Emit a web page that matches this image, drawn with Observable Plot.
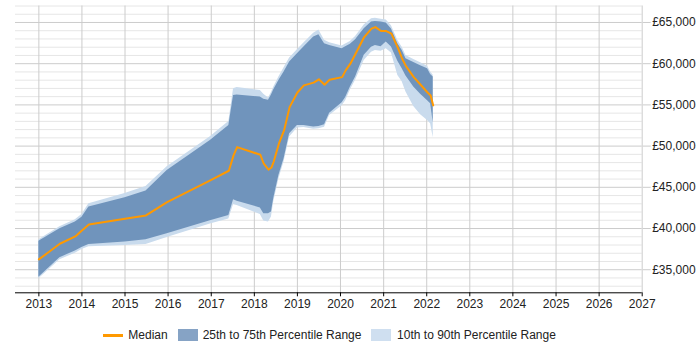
<!DOCTYPE html>
<html>
<head>
<meta charset="utf-8">
<script src="https://cdn.jsdelivr.net/npm/d3@7"></script>
<script src="https://cdn.jsdelivr.net/npm/@observablehq/plot@0.6"></script>
<style>
  body { margin: 0; background: #fff; font-family: "Liberation Sans", Arial, sans-serif; }
  #chart { position: relative; width: 700px; height: 350px; }
  .legend { position: absolute; left: 102.7px; top: 329px; height: 12px; display: flex; align-items: center; font-size: 12px; line-height: 12px; color: #222; white-space: nowrap; }
  .legend .line { width: 20px; height: 3px; background: #ff9900; margin-right: 5.6px; }
  .legend .box { width: 20px; height: 12px; margin-right: 5px; }
  .legend .gap { width: 10px; }
</style>
</head>
<body>
<div id="chart"></div>
<script>
// Salary percentiles over time (observation dates)
const dates = [
  "2013-01-01", "2013-06-28", "2013-11-06", "2014-01-01", "2014-03-01",
  "2015-01-01", "2015-06-28", "2015-12-24", "2016-12-24", "2017-05-30",
  "2017-07-09", "2017-08-08", "2018-02-21", "2018-03-22", "2018-05-01",
  "2018-05-26", "2018-06-14", "2018-07-28", "2018-09-10", "2018-10-27",
  "2019-01-01", "2019-02-25", "2019-05-19", "2019-07-02", "2019-08-19",
  "2019-10-01", "2020-01-15", "2020-02-14", "2020-03-25", "2020-05-08",
  "2020-07-20", "2020-09-20", "2020-10-23", "2020-12-10", "2021-01-23",
  "2021-03-08", "2021-05-01", "2021-06-07", "2021-07-09", "2021-09-13",
  "2021-11-10", "2022-01-08", "2022-02-03", "2022-02-25"
];
const p10 = [
  33900, 36200, 37000, 37450, 37800, 37950, 38050, 38900, 40550, 41150,
  42900, 42800, 41700, 40900, 40800, 41400, 43200, 46000, 48100, 51100,
  52200, 52250, 52050, 52100, 52300, 53700, 54900, 55500, 56800, 58000,
  60400, 61400, 61600, 61500, 61800, 61300, 58580, 57800, 56550, 54800,
  53800, 53100, 52700, 51000
];
const p25 = [
  34100, 36460, 37260, 37700, 38070, 38350, 38640, 39370, 40950, 41590,
  43500, 43300, 42500, 41800, 41800, 42000, 43620, 46440, 48470, 51500,
  52510, 52510, 52310, 52390, 52600, 54000, 55250, 55900, 57160, 58400,
  61010, 62000, 62220, 62050, 62620, 62010, 60300, 59390, 58500, 57160,
  56300, 55500, 55150, 52800
];
const p50 = [
  36250, 38150, 39040, 39770, 40500, 41190, 41590, 43200, 45840, 47010,
  48870, 49880, 48950, 47860, 47140, 47400, 48100, 50290, 51900, 54730,
  56500, 57370, 57700, 58100, 57450, 58060, 58370, 59190, 60000, 61210,
  63230, 64250, 64440, 63960, 63960, 63640, 61950, 60600, 59700, 58370,
  57450, 56500, 56150, 54940
];
const p75 = [
  38470, 39980, 40780, 41380, 42600, 43740, 44540, 47050, 50690, 52510,
  56150, 56200, 55950, 55700, 55550, 56200, 56800, 57970, 59000, 60190,
  61200, 62010, 63230, 63520, 62430, 62200, 61800, 62050, 62350, 62900,
  64250, 65050, 65130, 65050, 64930, 64200, 62430, 61610, 60600, 60150,
  59750, 59390, 58700, 58400
];
const p90 = [
  38650, 40200, 41050, 41700, 43000, 44250, 45100, 47500, 51150, 53000,
  56970, 57100, 56750, 56300, 55850, 56500, 57150, 58400, 59500, 60700,
  61700, 62500, 63700, 64100, 62850, 62550, 62150, 62400, 62700, 63300,
  64700, 65450, 65500, 65400, 65300, 64600, 62800, 62000, 61000, 60500,
  60100, 59700, 59000, 58600
];

// Axis ticks
const yearTicks = ["2013", "2014", "2015", "2016", "2017", "2018", "2019", "2020",
                   "2021", "2022", "2023", "2024", "2025", "2026", "2027"];
const salaryTicks = [35000, 40000, 45000, 50000, 55000, 60000, 65000];

// Legend entries
const legendLabels = ["Median", "25th to 75th Percentile Range", "10th to 90th Percentile Range"];

const colors = {
  median: "#ff9900",
  iqr: "#7094bc",
  iqrKey: "#86a3c5",
  outer: "#c9dbed",
  outerKey: "#cfdff0"
};

const parse = d3.utcParse("%Y-%m-%d");
const rows = dates.map((d, i) => ({
  date: parse(d), p10: p10[i], p25: p25[i], p50: p50[i], p75: p75[i], p90: p90[i]
}));
const yearDates = yearTicks.map(y => parse(y + "-01-01"));
const yMin = 32200, yMax = 67000;
const minorTicks = d3.range(33000, yMax + 1, 1000).filter(v => v % 5000 !== 0);
const money = v => "£" + d3.format(",")(v);

const chart = Plot.plot({
  width: 700,
  height: 320,
  marginTop: 5.5,
  marginBottom: 27.7,
  marginLeft: 15,
  marginRight: 58.3,
  style: { fontFamily: "'Liberation Sans', Arial, sans-serif", fontSize: "12px", color: "#222", background: "#fff" },
  x: { type: "utc", domain: [parse("2012-06-17"), parse("2027-01-01")] },
  y: { domain: [yMin, yMax] },
  marks: [
    Plot.ruleY(minorTicks, { stroke: "#e6e6e6" }),
    Plot.ruleY(salaryTicks, { stroke: "#cccccc" }),
    Plot.ruleX(yearDates, { stroke: "#cccccc" }),
    Plot.areaY(rows, { x: "date", y1: "p10", y2: "p90", fill: colors.outer }),
    Plot.areaY(rows, { x: "date", y1: "p25", y2: "p75", fill: colors.iqr }),
    Plot.lineY(rows, { x: "date", y: "p50", stroke: colors.median, strokeWidth: 2 }),
    Plot.axisY(salaryTicks, { anchor: "right", tickSize: 8, tickPadding: 2, stroke: "#cccccc", fill: "#222", tickFormat: money, label: null }),
    Plot.ruleY([yMin], { stroke: "#000" }),
    Plot.axisX(yearDates, { anchor: "bottom", tickSize: 4, tickPadding: 3, stroke: "#000", fill: "#222", tickFormat: d3.utcFormat("%Y"), label: null })
  ]
});

const root = document.getElementById("chart");
root.appendChild(chart);

// Legend below the plot
const legend = document.createElement("div");
legend.className = "legend";
legend.innerHTML =
  `<span class="line"></span><span>${legendLabels[0]}</span><span class="gap"></span>` +
  `<span class="box" style="background:${colors.iqrKey}"></span><span>${legendLabels[1]}</span><span class="gap"></span>` +
  `<span class="box" style="background:${colors.outerKey};margin-right:5.7px"></span><span>${legendLabels[2]}</span>`;
root.appendChild(legend);
</script>
</body>
</html>
